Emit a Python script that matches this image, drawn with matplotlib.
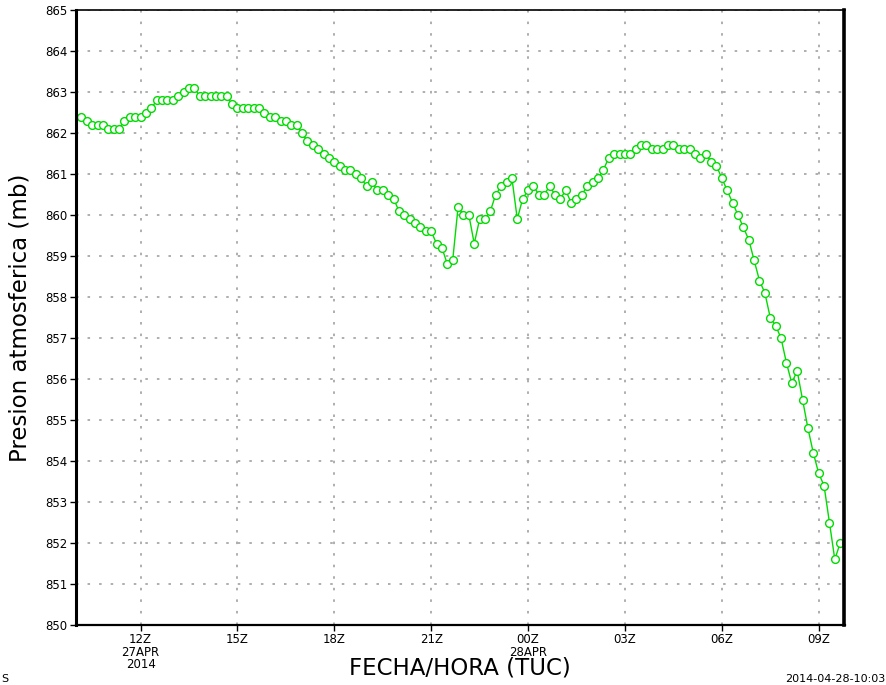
import numpy as np
import matplotlib
matplotlib.use("Agg")
import matplotlib.pyplot as plt

# presion cada 10 minutos, desde 27APR 10:10Z
pres_a = [862.4, 862.3, 862.2, 862.2, 862.2, 862.1, 862.1, 862.1, 862.3, 862.4,
          862.4, 862.4, 862.5, 862.6, 862.8, 862.8, 862.8, 862.8, 862.9, 863.0,
          863.1, 863.1, 862.9, 862.9, 862.9, 862.9, 862.9, 862.9, 862.7, 862.6,
          862.6, 862.6, 862.6, 862.6, 862.5, 862.4, 862.4, 862.3, 862.3, 862.2,
          862.2, 862.0, 861.8, 861.7, 861.6, 861.5, 861.4, 861.3]
pres_b = [861.2, 861.1, 861.1, 861.0, 860.9, 860.7, 860.8, 860.6, 860.6, 860.5,
          860.4, 860.1, 860.0, 859.9, 859.8, 859.7, 859.6, 859.6, 859.3, 859.2,
          858.8, 858.9, 860.2, 860.0, 860.0, 859.3, 859.9, 859.9, 860.1, 860.5,
          860.7, 860.8, 860.9, 859.9, 860.4, 860.6, 860.7, 860.5, 860.5, 860.7,
          860.5, 860.4, 860.6, 860.3, 860.4, 860.5, 860.7, 860.8]
pres_c = [860.9, 861.1, 861.4, 861.5, 861.5, 861.5, 861.5, 861.6, 861.7, 861.7,
          861.6, 861.6, 861.6, 861.7, 861.7, 861.6, 861.6, 861.6, 861.5, 861.4,
          861.5, 861.3, 861.2, 860.9, 860.6, 860.3, 860.0, 859.7, 859.4, 858.9,
          858.4, 858.1, 857.5, 857.3, 857.0, 856.4, 855.9, 856.2, 855.5, 854.8,
          854.2, 853.7, 853.4, 852.5, 851.6, 852.0, 852.0]
presion = pres_a + pres_b + pres_c

inicio = np.datetime64("2014-04-27T10:10")
tiempos = inicio + np.arange(len(presion)) * np.timedelta64(10, "m")

xticks = ["2014-04-27T12:00", "2014-04-27T15:00", "2014-04-27T18:00", "2014-04-27T21:00",
          "2014-04-28T00:00", "2014-04-28T03:00", "2014-04-28T06:00", "2014-04-28T09:00"]
xlabels = ["12Z\n27APR\n2014", "15Z", "18Z", "21Z", "00Z\n28APR", "03Z", "06Z", "09Z"]
yticks = list(range(850, 866))

verde = "#00dc00"


def a_fecha(t):
    return np.datetime64(t).astype("datetime64[s]").astype(object)


fig = plt.figure(figsize=(8.87, 6.85), dpi=100)
ax = fig.add_axes([76 / 887, 1 - 625 / 685, 768.5 / 887, 615 / 685])

ax.plot(tiempos.astype("datetime64[s]").astype(object), presion, color=verde, lw=1.0,
        marker="o", ms=5.6, mfc="white", mec=verde, mew=1.0)

ax.set_xlim(a_fecha("2014-04-27T10:00"), a_fecha("2014-04-28T09:48"))
ax.set_ylim(850, 865)

ax.set_xticks([a_fecha(t) for t in xticks])
ax.set_xticklabels(xlabels, fontsize=8.5, linespacing=0.95)
ax.set_yticks(yticks)
ax.set_yticklabels([str(v) for v in yticks], fontsize=8.5)

ax.grid(True, color="#a8a8a8", linestyle=(0, (1.4, 5)), linewidth=1.3)
ax.tick_params(axis="both", direction="out", length=4, width=1, pad=2, colors="black")
ax.tick_params(top=False, right=False)

for lado, ancho in (("left", 2.2), ("right", 2.6), ("bottom", 1.6), ("top", 1.2)):
    ax.spines[lado].set_linewidth(ancho)

ax.set_ylabel("Presion atmosferica (mb)", fontsize=16.5, labelpad=10)
ax.set_xlabel("FECHA/HORA (TUC)", fontsize=16.5, labelpad=0)
ax.xaxis.set_label_coords(0.5, -0.052)

fig.text(1 / 887, 1 - 679 / 685, "S", ha="left", va="center", fontsize=8)
fig.text(885 / 887, 1 - 679 / 685, "2014-04-28-10:03", ha="right", va="center", fontsize=8)

fig.savefig("out.png", dpi=100)
